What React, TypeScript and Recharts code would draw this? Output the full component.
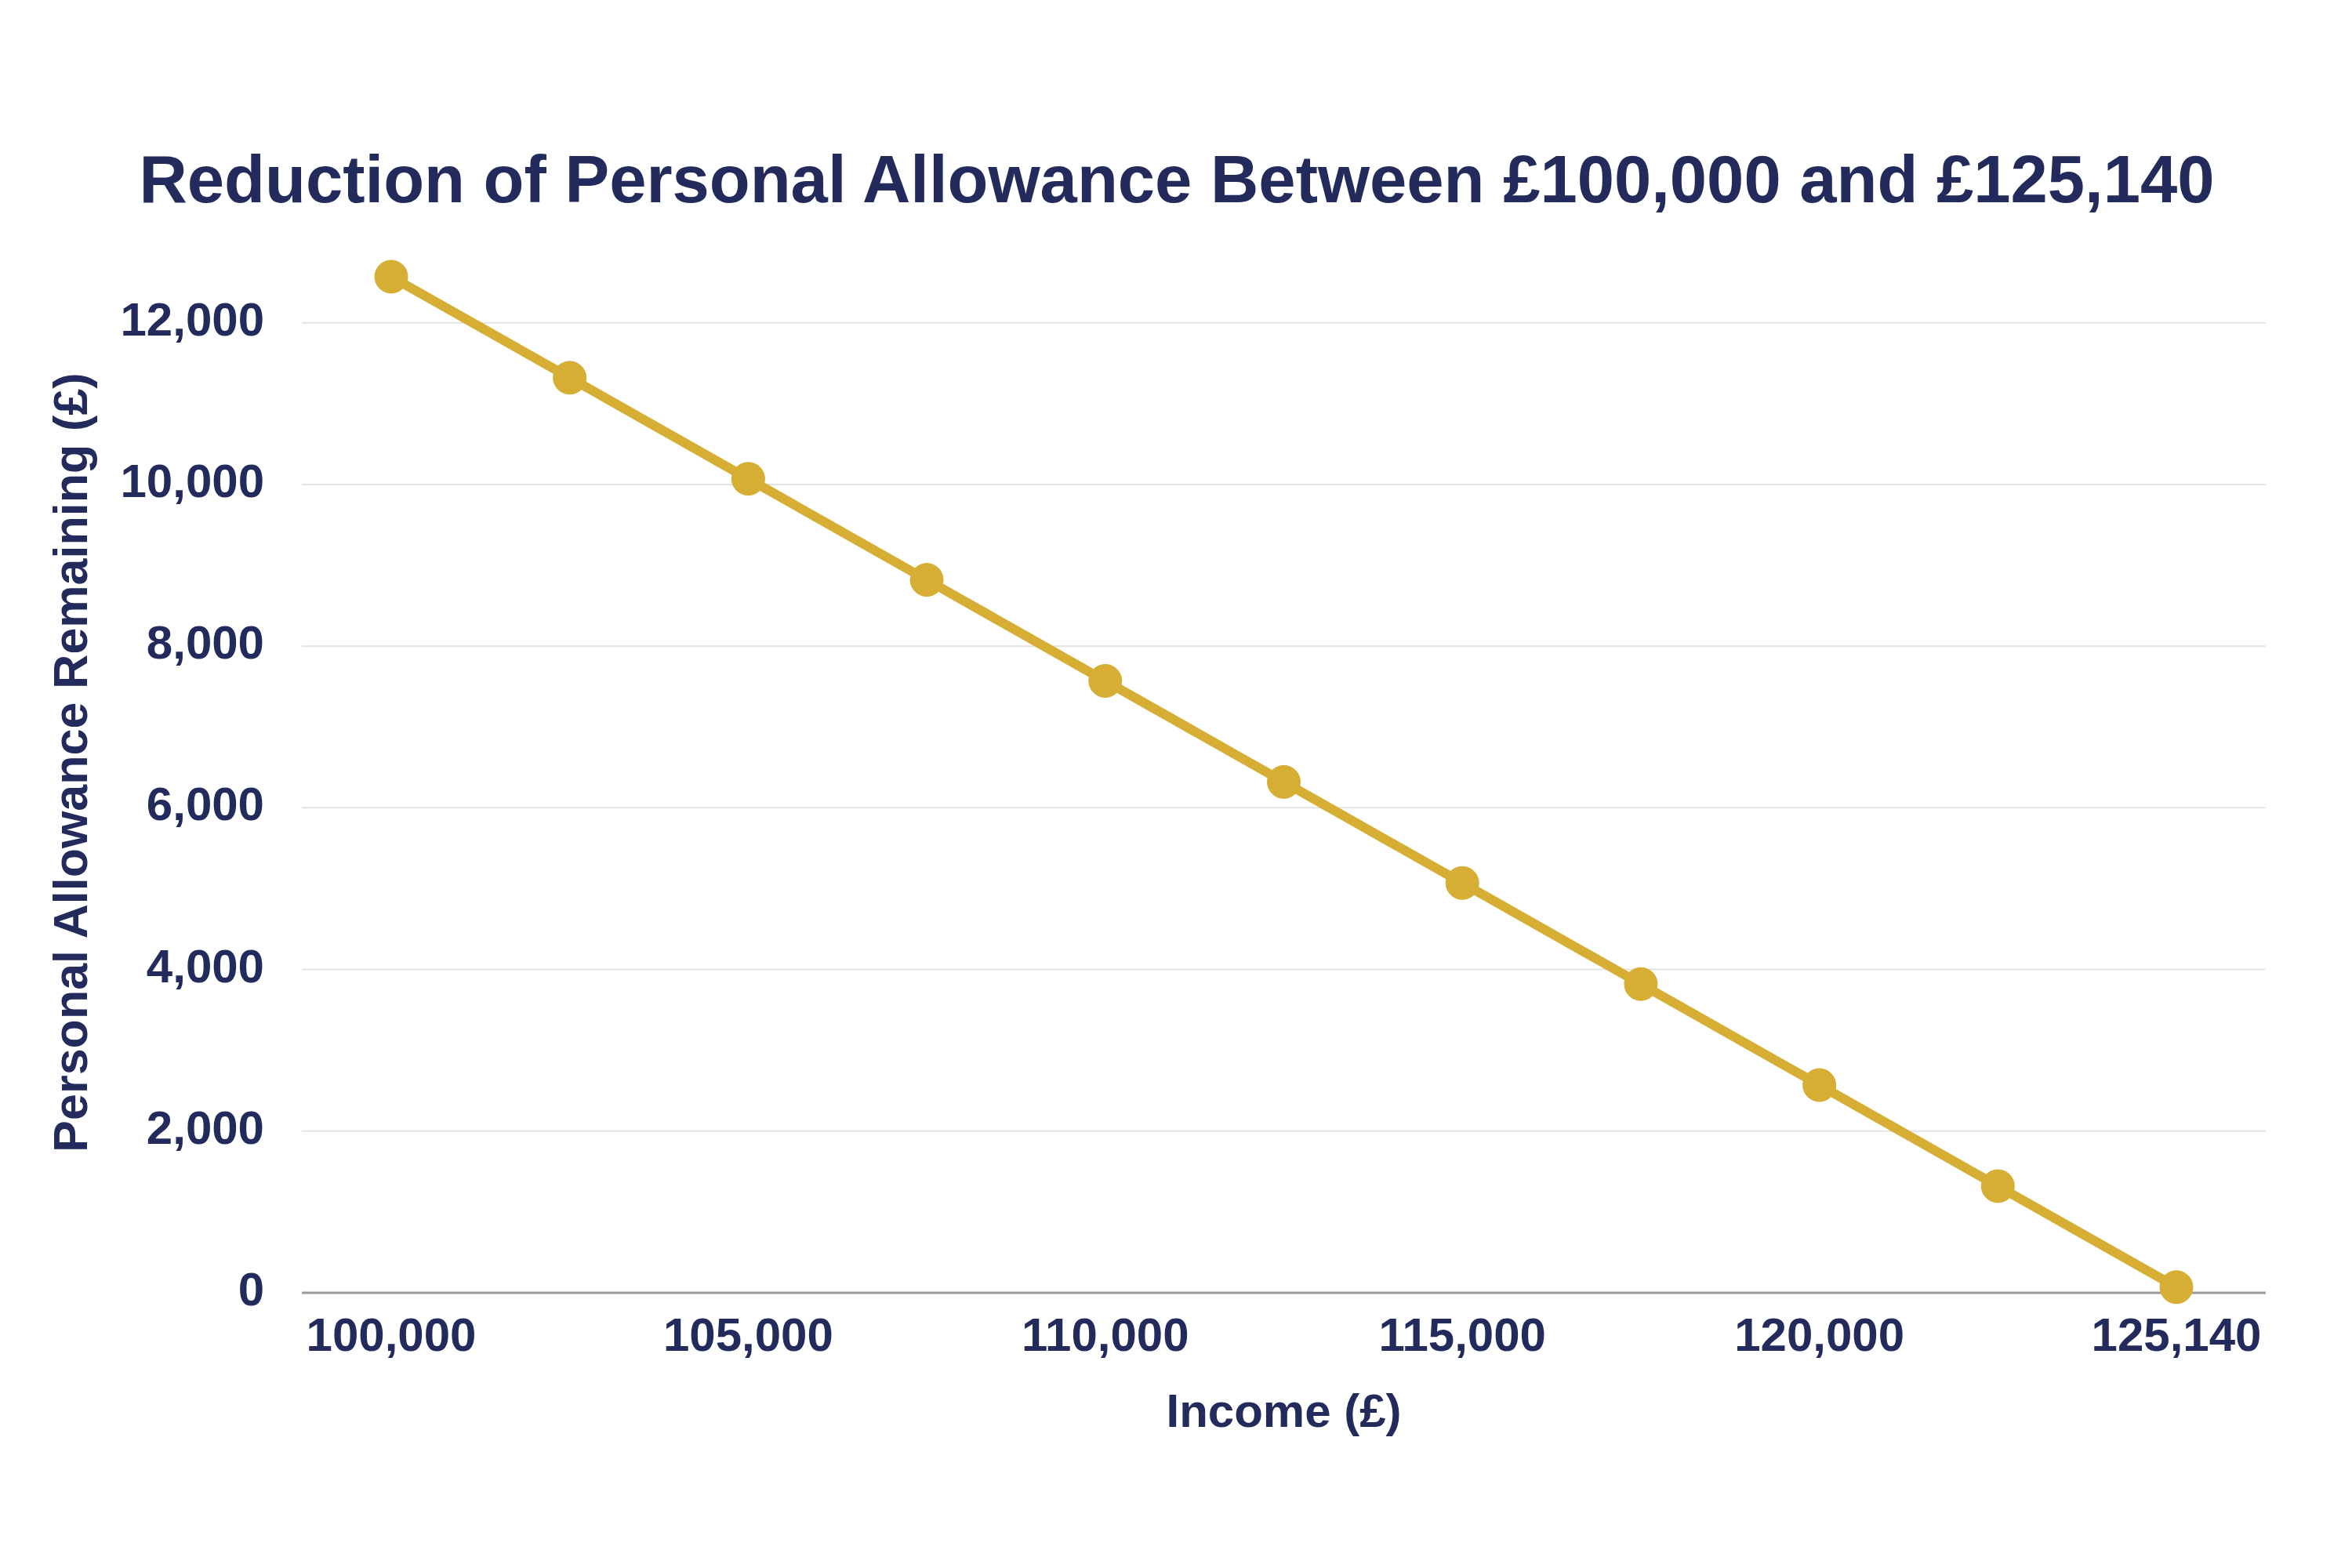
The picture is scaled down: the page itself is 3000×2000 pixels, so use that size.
import React from 'react';
import {
  CartesianGrid,
  Label,
  Line,
  LineChart,
  XAxis,
  YAxis
} from 'recharts';

const incomes = [
  100000, 102500, 105000, 107500, 110000, 112500, 115000, 117500, 120000,
  122500, 125140
];
const allowanceRemaining = [
  12570, 11320, 10070, 8820, 7570, 6320, 5070, 3820, 2570, 1320, 70
];
const yTicks = [0, 2000, 4000, 6000, 8000, 10000, 12000];

const NAVY = '#232a5c';
const GOLD = '#d5ae33';
const FONT = '"Liberation Sans", Arial, sans-serif';

const data = incomes.map((income, i) => ({
  income,
  allowance: allowanceRemaining[i]
}));

const fmt = (v: number) => v.toLocaleString('en-GB');

const XTick = (props: any) => {
  const { x, y, payload } = props;
  return (
    <text
      x={x}
      y={y + 74}
      textAnchor="middle"
      fill={NAVY}
      fontFamily={FONT}
      fontWeight="bold"
      fontSize={60}
    >
      {fmt(payload.value)}
    </text>
  );
};

const YTick = (props: any) => {
  const { x, y, payload } = props;
  return (
    <text
      x={x}
      y={y + 16}
      textAnchor="end"
      fill={NAVY}
      fontFamily={FONT}
      fontWeight="bold"
      fontSize={60}
    >
      {fmt(payload.value)}
    </text>
  );
};

const YTitle = (props: any) => {
  const { viewBox } = props;
  const x = viewBox.x + 111;
  const y = viewBox.y + viewBox.height / 2 + 4;
  return (
    <text
      x={x}
      y={y}
      transform={`rotate(-90, ${x}, ${y})`}
      textAnchor="middle"
      fill={NAVY}
      fontFamily={FONT}
      fontWeight="bold"
      fontSize={61}
    >
      Personal Allowance Remaining (£)
    </text>
  );
};

const XTitle = (props: any) => {
  const { viewBox } = props;
  return (
    <text
      x={viewBox.x + viewBox.width / 2}
      y={viewBox.y + 171}
      textAnchor="middle"
      fill={NAVY}
      fontFamily={FONT}
      fontWeight="bold"
      fontSize={60}
    >
      Income (£)
    </text>
  );
};

const App: React.FC = () => {
  return (
    <div
      style={{
        position: 'absolute',
        left: 0,
        top: 0,
        width: 3000,
        height: 2000,
        background: '#ffffff'
      }}
    >
      <LineChart
        width={3000}
        height={2000}
        data={data}
        margin={{ top: 288, right: 110, bottom: 0, left: 0 }}
      >
        <CartesianGrid
          vertical={false}
          stroke="#e3e3e3"
          strokeWidth={2}
          syncWithTicks
        />
        <XAxis
          dataKey="income"
          type="category"
          interval={1}
          height={351}
          padding={{ left: 114, right: 114 }}
          tickSize={0}
          tickMargin={0}
          tickLine={false}
          axisLine={{ stroke: '#9a9a9a', strokeWidth: 3 }}
          tick={<XTick />}
        >
          <Label content={<XTitle />} />
        </XAxis>
        <YAxis
          width={385}
          domain={[0, 13200]}
          ticks={yTicks}
          tickSize={0}
          tickMargin={48}
          tickLine={false}
          axisLine={false}
          tick={<YTick />}
        >
          <Label content={<YTitle />} />
        </YAxis>
        <Line
          type="linear"
          dataKey="allowance"
          stroke={GOLD}
          strokeWidth={12}
          dot={{ r: 21, fill: GOLD, stroke: GOLD, strokeWidth: 1 }}
          activeDot={false}
          isAnimationActive={false}
        />
      </LineChart>
      <svg
        width={3000}
        height={400}
        style={{ position: 'absolute', left: 0, top: 0, pointerEvents: 'none' }}
      >
        <text
          x={1501}
          y={258}
          textAnchor="middle"
          fill={NAVY}
          fontFamily={FONT}
          fontWeight="bold"
          fontSize={85}
        >
          Reduction of Personal Allowance Between £100,000 and £125,140
        </text>
      </svg>
    </div>
  );
};

export default App;
